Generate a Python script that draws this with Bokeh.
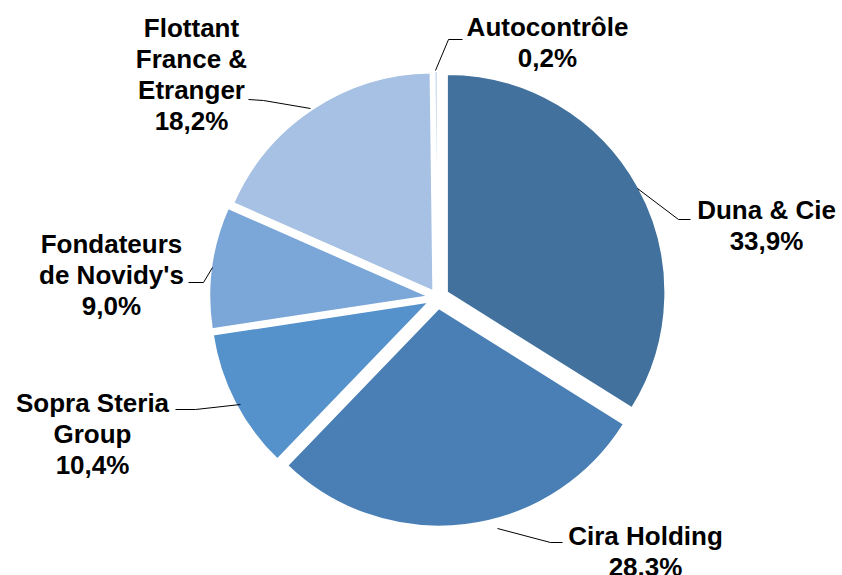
import math
from bokeh.plotting import figure
from bokeh.models import Range1d, ColumnDataSource
from bokeh.core.properties import value
from bokeh.embed import file_html
from bokeh.resources import INLINE

# ---- data ----
categories = ["Duna & Cie", "Cira Holding", "Sopra Steria Group",
              "Fondateurs de Novidy's", "Flottant France & Etranger", "Autocontrôle"]
shares = [33.9, 28.3, 10.4, 9.0, 18.2, 0.2]
label_lines = [["Duna & Cie", "33,9%"],
               ["Cira Holding", "28,3%"],
               ["Sopra Steria", "Group", "10,4%"],
               ["Fondateurs", "de Novidy's", "9,0%"],
               ["Flottant", "France &", "Etranger", "18,2%"],
               ["Autocontrôle", "0,2%"]]
colors = ["#41719C", "#4A7FB5", "#5592CB", "#7BA7D8", "#A6C1E3", "#BDD2EB"]

# ---- layout (pixels in page, origin top-left) ----
W, H = 842, 575
def X(px): return px
def Y(py): return H - py

cx, cy, R = X(437), Y(297), 218
explode = [11, 11, 10, 10, 8, 8]
# label centres (x, y of first line), line spacing
label_pos = [(766, 209), (645, 535), (92, 402), (111, 243), (191, 27), (547, 26)]
line_gap = 31
# leader polylines (page px): from slice edge to label
leaders = [[(637, 188), (678, 219), (690, 219)],
           [(497, 528), (550, 542), (562, 542)],
           [(240, 404), (195, 409), (175, 409)],
           [(212, 267), (203, 282), (188, 282)],
           [(310, 108), (263, 100), (248, 99)],
           [(435, 70), (448, 39), (462, 39)]]

p = figure(width=W, height=H, output_backend="svg", toolbar_location=None,
           x_range=Range1d(0, W), y_range=Range1d(0, H), min_border=0)
p.axis.visible = False
p.grid.visible = False
p.outline_line_color = None
p.background_fill_color = "white"

total = sum(shares)
acc = 0.0
xs, ys, sa, ea = [], [], [], []
for s, e in zip(shares, explode):
    a0 = acc / total * 2 * math.pi
    a1 = (acc + s) / total * 2 * math.pi
    am = (a0 + a1) / 2
    xs.append(cx + e * math.sin(am))
    ys.append(cy + e * math.cos(am))
    sa.append(math.pi / 2 - a1)
    ea.append(math.pi / 2 - a0)
    acc += s

src = ColumnDataSource(dict(x=xs, y=ys, start=sa, end=ea, color=colors, name=categories))
p.wedge(x="x", y="y", radius=R, start_angle="start", end_angle="end",
        fill_color="color", line_color="white", line_width=1.5, source=src)

for pts in leaders:
    p.line([X(a) for a, b in pts], [Y(b) for a, b in pts], line_color="black", line_width=1)

tx, ty, tt = [], [], []
for (lx, ly), lines in zip(label_pos, label_lines):
    for i, t in enumerate(lines):
        tx.append(X(lx)); ty.append(Y(ly + i * line_gap)); tt.append(t)
p.text(x=tx, y=ty, text=tt, text_align="center", text_baseline="middle",
       text_font=value("Liberation Sans"), text_font_style="bold",
       text_font_size="26px", text_color="black")

open("out.html", "w").write(file_html(p, INLINE))
